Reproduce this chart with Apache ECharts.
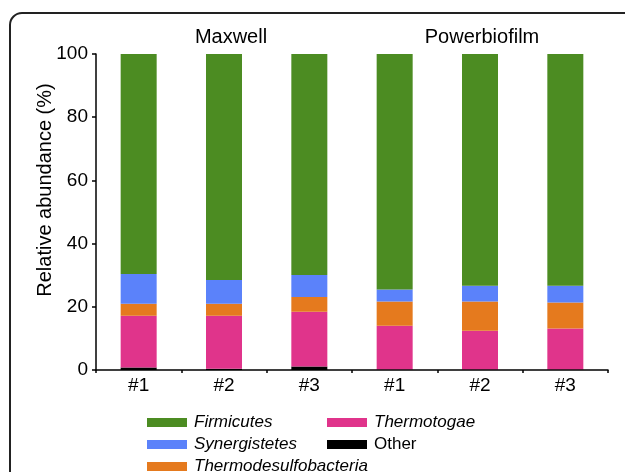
<!DOCTYPE html>
<html><head><meta charset="utf-8">
<script src="https://cdn.jsdelivr.net/npm/echarts@6/dist/echarts.min.js"></script>
<style>html,body{margin:0;padding:0;background:#fff}#c{width:625px;height:472px}</style>
</head><body><div id="c"></div>
<script>
const categories = ['#1','#2','#3','#1','#2','#3'];
const groupLabels = ['Maxwell','Powerbiofilm'];
const other = [0.8, 0.4, 1.1, 0.2, 0.2, 0.2];
const thermotogae = [16.4, 16.8, 17.3, 13.8, 12.2, 12.9];
const thermodesulfobacteria = [3.8, 3.8, 4.7, 7.7, 9.3, 8.3];
const synergistetes = [9.4, 7.5, 7.0, 3.8, 5.0, 5.3];
const firmicutes = [69.6, 71.5, 69.9, 74.5, 73.3, 73.3];
const yTicks = [0, 20, 40, 60, 80, 100];
const yTitle = 'Relative abundance (%)';

const FONT = 'Liberation Sans, Arial, Helvetica, sans-serif';
const colors = {
  Firmicutes: '#4c8c22', Synergistetes: '#5b82fa', Thermodesulfobacteria: '#e57a1e',
  Thermotogae: '#e0348b', Other: '#000000'
};
function s(name, data){
  return {name, type:'bar', stack:'a', data, barWidth:36, itemStyle:{color:colors[name]}, emphasis:{disabled:true}};
}
function leg(name, left, top, italic){
  return {data:[name], orient:'horizontal', left, top, itemWidth:40, itemHeight:9, itemGap:0,
    icon:'rect', selectedMode:false, padding:0,
    textStyle:{fontFamily:FONT, fontSize:17, color:'#000', fontStyle: italic ? 'italic' : 'normal', padding:[0,0,0,2]}};
}
const chart = echarts.init(document.getElementById('c'));
chart.setOption({
  animation:false,
  grid:{left:96, right:17, top:54, bottom:102},
  xAxis:{type:'category', data:categories,
    axisLine:{lineStyle:{color:'#000', width:1.5}},
    axisTick:{show:true, length:3, lineStyle:{color:'#000', width:1.5}},
    axisLabel:{fontFamily:FONT, fontSize:19, color:'#000', margin:6}},
  yAxis:{type:'value', min:0, max:100, interval:20,
    splitLine:{show:false},
    axisLine:{show:true, lineStyle:{color:'#000', width:1.5}},
    axisTick:{show:true, length:4, lineStyle:{color:'#000', width:1.5}},
    axisLabel:{fontFamily:FONT, fontSize:19, color:'#000', margin:8,
      formatter: v => yTicks.includes(v) ? String(v) : ''}},
  legend:[
    leg('Firmicutes', 147, 414, true),
    leg('Synergistetes', 147, 436, true),
    leg('Thermodesulfobacteria', 147, 458, true),
    leg('Thermotogae', 327, 414, true),
    leg('Other', 327, 436, false)
  ],
  graphic:[
    {type:'rect', shape:{x:10, y:13, width:700, height:600, r:12}, style:{fill:'none', stroke:'#222', lineWidth:2}, silent:true},
    {type:'text', x:231, y:37, style:{text:groupLabels[0], font:'20px '+FONT, fill:'#000', textAlign:'center', textVerticalAlign:'middle'}},
    {type:'text', x:482, y:37, style:{text:groupLabels[1], font:'20px '+FONT, fill:'#000', textAlign:'center', textVerticalAlign:'middle'}},
    {type:'text', x:45, y:190, rotation:Math.PI/2, style:{text:yTitle, font:'20px '+FONT, fill:'#000', textAlign:'center', textVerticalAlign:'middle'}}
  ],
  series:[
    s('Other', other), s('Thermotogae', thermotogae), s('Thermodesulfobacteria', thermodesulfobacteria),
    s('Synergistetes', synergistetes), s('Firmicutes', firmicutes)
  ]
});
</script></body></html>
